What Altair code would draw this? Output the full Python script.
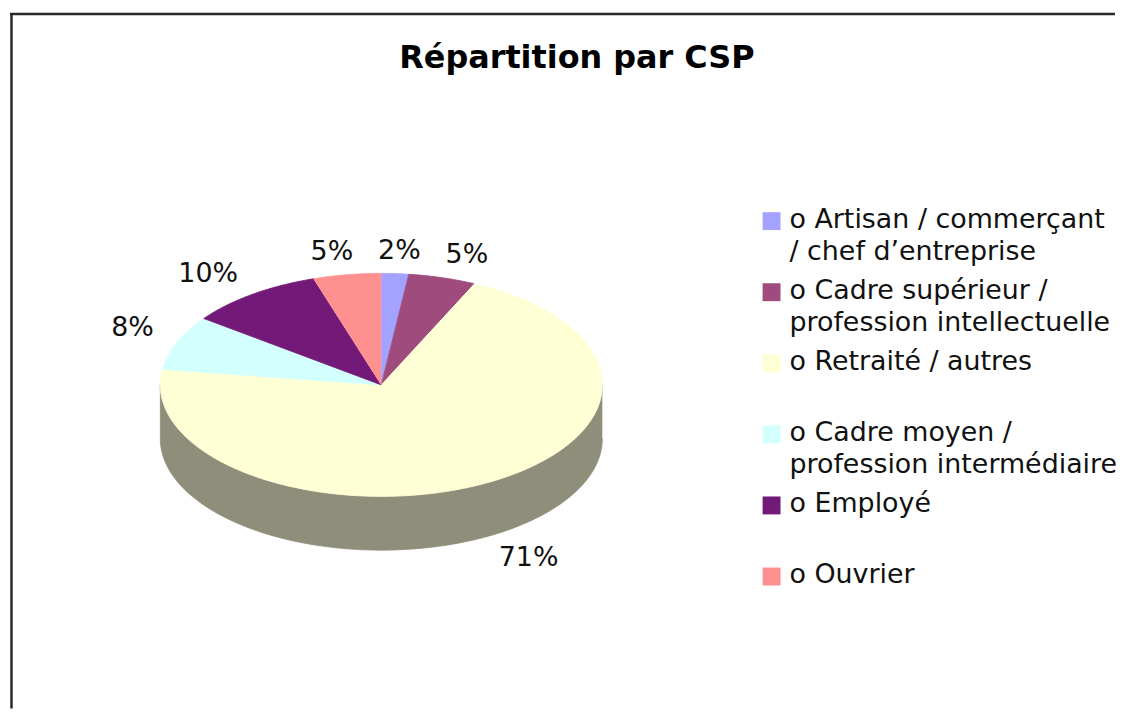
import numpy as np
import pandas as pd
import altair as alt

# ---------------- data ----------------
categories = [
    "Artisan / commerçant / chef d’entreprise",
    "Cadre supérieur / profession intellectuelle",
    "Retraité / autres",
    "Cadre moyen / profession intermédiaire",
    "Employé",
    "Ouvrier",
]
legend_line1 = ["o Artisan / commerçant", "o Cadre supérieur /", "o Retraité / autres",
                "o Cadre moyen /", "o Employé", "o Ouvrier"]
legend_line2 = ["/ chef d’entreprise", "profession intellectuelle", "",
                "profession intermédiaire", "", ""]
values = [2, 5, 71, 8, 10, 5]
value_labels = ["2%", "5%", "71%", "8%", "10%", "5%"]
title_text = "Répartition par CSP"

# ---------------- styles / layout ----------------
colors = ["#a3a3ff", "#a04b7e", "#ffffd6", "#d3ffff", "#731a78", "#ff9090"]
SHADE = 0.56
def darken(h, f=SHADE):
    h = h.lstrip("#")
    r, g, b = (int(h[i:i + 2], 16) for i in (0, 2, 4))
    return "#%02x%02x%02x" % (int(r * f), int(g * f), min(255, int(b * f) + 4))
wall_colors = [darken(c) for c in colors]

W, H = 1110, 702           # plot area (page offset 8 px)
OFF = 8
CX, CY, RX, RY, DEPTH = 381, 385, 222, 112, 54
FONT = "DejaVu Sans"
FS = 27

# ---------------- geometry computed from the values ----------------
vals = np.array(values, dtype=float)
ends = np.cumsum(vals) / vals.sum() * 360.0
starts = ends - vals / vals.sum() * 360.0


def pt(theta, dy=0.0):
    t = np.radians(theta)
    return CX + RX * np.sin(t), CY - RY * np.cos(t) + dy


top_rows = []
for cat, s, e in zip(categories, starts, ends):
    n = max(int(np.ceil(e - s)), 2)
    i = 0
    top_rows.append(dict(cat=cat, i=i, x=CX, y=CY))
    for t in np.linspace(s, e, n + 1):
        i += 1
        x, y = pt(t)
        top_rows.append(dict(cat=cat, i=i, x=x, y=y))
top_df = pd.DataFrame(top_rows)

wall_rows = []
for cat, s, e in zip(categories, starts, ends):
    lo, hi = max(s, 90.0), min(e, 270.0)
    if hi <= lo:
        continue
    n = max(int(np.ceil(hi - lo)), 2)
    ts = np.linspace(lo, hi, n + 1)
    i = 0
    for t in ts:
        x, y = pt(t)
        wall_rows.append(dict(cat=cat, i=i, x=x, y=y)); i += 1
    for t in ts[::-1]:
        x, y = pt(t, DEPTH)
        wall_rows.append(dict(cat=cat, i=i, x=x, y=y)); i += 1
wall_df = pd.DataFrame(wall_rows)

# percentage labels placed outside the slices
char_w = {"%": 0.95}
def text_w(s):
    return sum(char_w.get(ch, 0.636) for ch in s) * FS

lab = []
for cat, s, e, txt in zip(categories, starts, ends, value_labels):
    m = np.radians((s + e) / 2)
    sn, cs = np.sin(m), np.cos(m)
    hw = text_w(txt) / 2
    x = CX + (RX + 25) * sn + hw * np.clip(3 * sn, -1, 1)
    y = CY - (RY + 13) * cs - 10 * np.clip(3 * cs, -1, 1) + (DEPTH if cs < 0 else 0)
    lab.append(dict(cat=cat, text=txt, x=x, y=y, hw=hw, up=cs > 0.8))
# simple collision avoidance for labels along the top edge
top_labs = sorted([l for l in lab if l["up"]], key=lambda l: l["x"])
for j in range(len(top_labs) - 2, -1, -1):
    a, b = top_labs[j], top_labs[j + 1]
    gap = (b["x"] - b["hw"]) - (a["x"] + a["hw"])
    if gap < 25:
        a["x"] -= 25 - gap
lab_df = pd.DataFrame(lab)[["cat", "text", "x", "y"]]

# legend
LEG_Y0, LEG_STEP, LINE_H = 219.5, 71.4, 32
sw_df = pd.DataFrame({
    "cat": categories,
    "x": [773] * len(categories),
    "y": [LEG_Y0 + LEG_STEP * k + 1 for k in range(len(categories))],
})
leg_rows = []
for k, (cat, l1, l2) in enumerate(zip(categories, legend_line1, legend_line2)):
    y0 = LEG_Y0 + LEG_STEP * k
    leg_rows.append(dict(text=l1, x=791, y=y0))
    if l2:
        leg_rows.append(dict(text=l2, x=791, y=y0 + LINE_H))
leg_df = pd.DataFrame(leg_rows)

# ---------------- chart ----------------
def X():
    return alt.X("x:Q", scale=alt.Scale(domain=[OFF, OFF + W], nice=False, zero=False), axis=None)

def Y():
    return alt.Y("y:Q", scale=alt.Scale(domain=[OFF, OFF + H], nice=False, zero=False, reverse=True), axis=None)

cat_scale = alt.Scale(domain=categories, range=colors)
wall_scale = alt.Scale(domain=categories, range=wall_colors)

one = pd.DataFrame({"a": [0]})

border_top = alt.Chart(one).mark_rule(color="#2a2a2a", strokeWidth=2.5).encode(
    x=alt.value(0), x2=alt.value(W), y=alt.value(4.5))
border_left = alt.Chart(one).mark_rule(color="#2a2a2a", strokeWidth=2.5).encode(
    x=alt.value(1.5), y=alt.value(3.5), y2=alt.value(H))

wall = alt.Chart(wall_df).mark_line(filled=True, strokeWidth=0.8).encode(
    x=X(), y=Y(), order="i:Q",
    color=alt.Color("cat:N", scale=wall_scale, legend=None),
    stroke=alt.Stroke("cat:N", scale=wall_scale, legend=None),
)
top = alt.Chart(top_df).mark_line(filled=True, strokeWidth=0.8).encode(
    x=X(), y=Y(), order="i:Q",
    color=alt.Color("cat:N", scale=cat_scale, legend=None),
    stroke=alt.Stroke("cat:N", scale=cat_scale, legend=None),
)
labels = alt.Chart(lab_df).mark_text(font=FONT, fontSize=FS, color="#111111",
                                     align="center", baseline="middle").encode(
    x=X(), y=Y(), text="text:N")

title = alt.Chart(one).mark_text(text=title_text, font=FONT, fontSize=32, fontWeight="bold",
                                 color="#000000", align="center", baseline="alphabetic").encode(
    x=alt.value(577.5 - OFF), y=alt.value(66.7 - OFF))

swatches = alt.Chart(sw_df).mark_square(size=18 * 18, opacity=1).encode(
    x=X(), y=Y(), color=alt.Color("cat:N", scale=cat_scale, legend=None))
leg_text = alt.Chart(leg_df).mark_text(font=FONT, fontSize=FS, color="#111111",
                                       align="left", baseline="middle").encode(
    x=X(), y=Y(), text="text:N")

chart = alt.layer(border_top, border_left, wall, top, labels, title, swatches, leg_text).resolve_scale(
    color="independent", stroke="independent"
).properties(width=W, height=H, padding=0, background="white").configure_view(stroke=None)

chart.save("out.html", embed_options={"renderer": "svg", "actions": False})
